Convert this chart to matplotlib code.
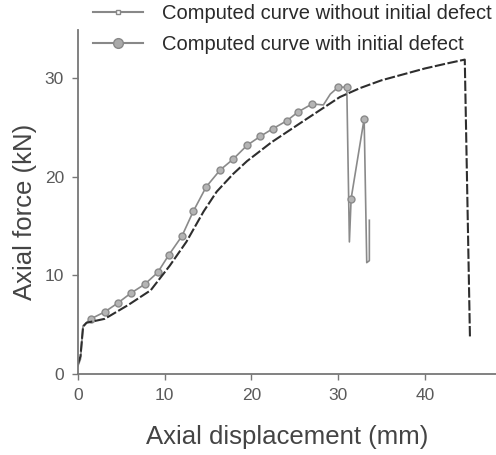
import matplotlib
matplotlib.use("Agg")
import matplotlib.pyplot as plt
from matplotlib.lines import Line2D

plt.rcParams['font.family'] = ['Liberation Sans', 'DejaVu Sans']

# curve without initial defect (displacement mm, force kN)
x_nodef = [0, 0.3, 0.6, 1.0, 3.1, 5.8, 8.4, 10.6, 12.5, 14.5, 16.0, 17.9, 19.5,
           22.3, 26.4, 30.2, 32.5, 35.0, 37.5, 40.0, 42.5, 44.6, 45.2]
y_nodef = [1.0, 1.8, 4.8, 5.2, 5.6, 7.0, 8.5, 11.0, 13.4, 16.5, 18.5, 20.3, 21.6,
           23.5, 25.9, 28.1, 29.0, 29.8, 30.4, 31.0, 31.5, 31.9, 3.6]

# curve with initial defect
x_def = [0, 0.3, 0.6, 1.5, 3.1, 4.6, 6.1, 7.7, 9.2, 10.5, 12.0, 13.3, 14.8, 16.4,
         17.9, 19.5, 21.0, 22.5, 24.1, 25.4, 27.0, 28.3, 29.1, 30.0, 31.0, 31.3,
         31.5, 33.0, 33.3, 33.6, 33.6]
y_def = [0.8, 1.5, 4.9, 5.6, 6.3, 7.2, 8.2, 9.1, 10.3, 12.1, 14.0, 16.5, 19.0, 20.7,
         21.8, 23.2, 24.1, 24.9, 25.7, 26.6, 27.4, 27.3, 28.4, 29.1, 29.1, 13.4,
         17.8, 25.9, 11.3, 11.5, 15.6]
def_markers = [3, 4, 5, 6, 7, 8, 9, 10, 11, 12, 13, 14, 15, 16, 17, 18, 19, 20,
               23, 24, 26, 27]

fig = plt.figure(figsize=(4.96, 4.55), dpi=100)
ax = fig.add_axes([0.157, 0.178, 0.843, 0.756])

ax.plot(x_def, y_def, color='#8a8a8a', lw=1.2, marker='o', markersize=5,
        markerfacecolor='#b4b4b4', markeredgecolor='#8a8a8a', markevery=def_markers)
ax.plot(x_nodef, y_nodef, color='#2e2e2e', lw=1.5, dashes=(5, 1.2))

ax.set_xlim(0, 48.2)
ax.set_ylim(0, 34.9)
ax.set_xticks([0, 10, 20, 30, 40])
ax.set_yticks([0, 10, 20, 30])
for s in ['top', 'right']:
    ax.spines[s].set_visible(False)
for s in ['left', 'bottom']:
    ax.spines[s].set_color('#777777')
    ax.spines[s].set_linewidth(1.3)
ax.tick_params(direction='out', length=4, width=1, color='#777777',
               labelsize=12.5, labelcolor='#5a5a5a', pad=6)

ax.set_xlabel('Axial displacement (mm)', fontsize=18.5, color='#444444', labelpad=16)
ax.set_ylabel('Axial force (kN)', fontsize=18.5, color='#444444')
ax.yaxis.set_label_coords(-0.097, 0.471)

handles = [
    Line2D([], [], color='#888888', lw=1.5, marker='s', markersize=3,
           markerfacecolor='white', markeredgecolor='#888888'),
    Line2D([], [], color='#888888', lw=1.5, marker='o', markersize=7,
           markerfacecolor='#aaaaaa', markeredgecolor='#888888'),
]
fig.legend(handles, ['Computed curve without initial defect',
                     'Computed curve with initial defect'],
           loc='upper left', bbox_to_anchor=(93 / 496, 1 - 4 / 455), frameon=False,
           fontsize=14.5, handlelength=2.5, handletextpad=0.95, labelspacing=0.6,
           borderpad=0, borderaxespad=0, labelcolor='#2a2a2a')

fig.savefig('out.png', dpi=100)
